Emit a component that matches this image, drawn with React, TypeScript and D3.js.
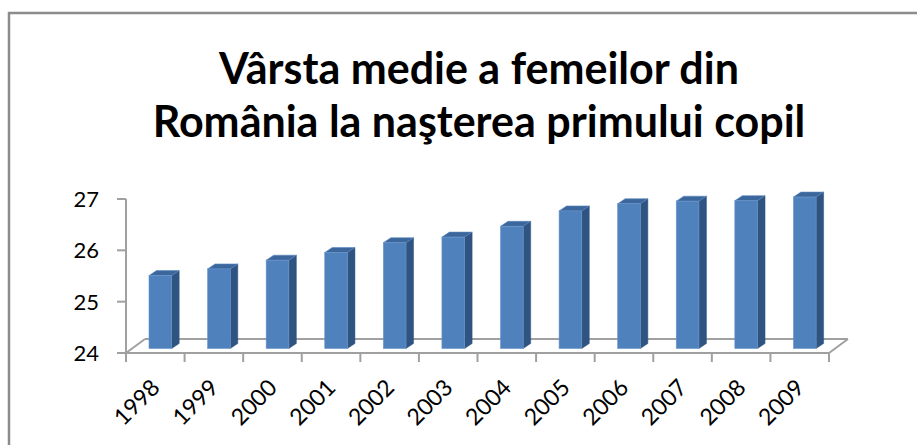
import React, { useEffect } from "react";
import * as d3 from "d3";

const years = ["1998", "1999", "2000", "2001", "2002", "2003", "2004", "2005", "2006", "2007", "2008", "2009"];
const ages = [25.42, 25.55, 25.72, 25.87, 26.06, 26.17, 26.38, 26.68, 26.82, 26.87, 26.88, 26.95];
const yTicks = [24, 25, 26, 27];
const titleLines = ["Vârsta medie a femeilor din", "România la naşterea primului copil"];

const W = 917;
const H = 445;
const FONT = "Lato, 'Open Sans', sans-serif";

export default function App() {
  useEffect(() => {
    document.body.style.margin = "0";
  }, []);

  const x = d3.scaleBand<string>().domain(years).range([126, 829]).padding(0);
  const y = d3.scaleLinear().domain([24, 27]).range([353, 199]);
  const floorDx = 19;
  const floorDy = -14;
  const barLift = 4.5;
  const barOffset = 23;
  const barW = 22.7;
  const depthDx = 7.5;
  const depthDy = -5;
  const axisColor = "#a0a0a0";

  const bw = x.bandwidth();
  const x0 = x.range()[0];
  const x1 = x.range()[1];
  const yBase = y(24);

  return (
    <svg width={W} height={H} style={{ display: "block", background: "#fff" }}>
      <rect x={9} y={13} width={W + 20} height={H + 20} fill="none" stroke="#8c8c8c" strokeWidth={2.5} />
      {titleLines.map((t, i) => (
        <text
          key={i}
          x={479}
          y={84 + i * 53}
          textAnchor="middle"
          fontFamily={FONT}
          fontWeight="bold"
          fontSize={43}
          fill="#000"
        >
          {t}
        </text>
      ))}
      {/* floor */}
      <g stroke={axisColor} strokeWidth={2} fill="none">
        <line x1={x0} y1={yBase} x2={x0 + floorDx} y2={yBase + floorDy} />
        <line x1={x0 + floorDx} y1={yBase + floorDy} x2={x1 + floorDx} y2={yBase + floorDy} />
        <line x1={x1} y1={yBase} x2={x1 + floorDx} y2={yBase + floorDy} />
        <line x1={x0} y1={yBase} x2={x1} y2={yBase} />
        <line x1={x0} y1={y(27)} x2={x0} y2={yBase} />
        {yTicks.map((t) => (
          <line key={t} x1={x0 - 9} y1={y(t)} x2={x0} y2={y(t)} />
        ))}
        {years.map((yr) => (
          <line key={yr} x1={x(yr)!} y1={yBase} x2={x(yr)!} y2={yBase + 9} />
        ))}
        <line x1={x1} y1={yBase} x2={x1} y2={yBase + 9} />
      </g>
      {/* bars */}
      {years.map((yr, i) => {
        const l = x(yr)! + barOffset;
        const r = l + barW;
        const b = yBase - barLift;
        const t = y(ages[i]) - barLift;
        const side = `M${r},${b} L${r + depthDx},${b + depthDy} L${r + depthDx},${t + depthDy} L${r},${t} Z`;
        const top = `M${l},${t} L${l + depthDx},${t + depthDy} L${r + depthDx},${t + depthDy} L${r},${t} Z`;
        return (
          <g key={yr}>
            <path d={side} fill="#2f5481" stroke="#2f5481" strokeWidth={0.5} />
            <path d={top} fill="#3b679c" stroke="#5a86bd" strokeWidth={0.6} />
            <rect x={l} y={t} width={barW} height={b - t} fill="#4f81bd" stroke="#6a95cb" strokeWidth={0.6} />
          </g>
        );
      })}
      {/* y labels */}
      {yTicks.map((t) => (
        <text
          key={t}
          x={99}
          y={y(t)}
          dy="0.36em"
          textAnchor="end"
          fontFamily={FONT}
          fontSize={22}
          fill="#000"
        >
          {t}
        </text>
      ))}
      {/* x labels */}
      {years.map((yr) => {
        const cx = x(yr)! + bw / 2 + 6;
        const cy = 389;
        return (
          <text
            key={yr}
            transform={`translate(${cx},${cy}) rotate(-45)`}
            textAnchor="end"
            fontFamily={FONT}
            fontSize={23}
            fill="#000"
          >
            {yr}
          </text>
        );
      })}
    </svg>
  );
}
